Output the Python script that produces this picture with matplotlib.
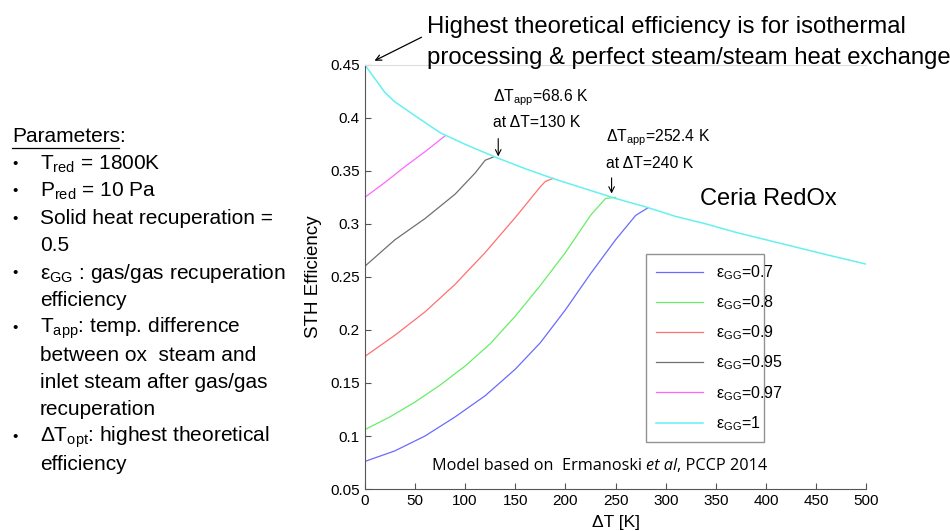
import matplotlib
matplotlib.use('Agg')
import matplotlib.pyplot as plt
from matplotlib.lines import Line2D

plt.rcParams['font.family'] = ['Liberation Sans', 'DejaVu Sans']
plt.rcParams['mathtext.fontset'] = 'custom'
plt.rcParams['mathtext.rm'] = 'Liberation Sans'
plt.rcParams['mathtext.it'] = 'Liberation Sans:italic'

# data
dt_1 = [0, 10, 20, 30, 50, 75, 100, 130, 160, 190, 220, 250, 280, 310, 340, 370, 400, 430, 460, 500]
eff_1 = [0.45, 0.437, 0.424, 0.415, 0.402, 0.386, 0.375, 0.363, 0.352, 0.342, 0.333, 0.324,
         0.316, 0.307, 0.300, 0.292, 0.285, 0.278, 0.271, 0.262]
dt_097 = [0, 20, 40, 60, 80]
eff_097 = [0.325, 0.339, 0.354, 0.368, 0.383]
dt_095 = [0, 30, 60, 90, 110, 120, 128]
eff_095 = [0.26, 0.285, 0.305, 0.328, 0.348, 0.360, 0.363]
dt_09 = [0, 30, 60, 90, 120, 150, 175, 180, 188]
eff_09 = [0.175, 0.195, 0.217, 0.243, 0.273, 0.306, 0.335, 0.340, 0.343]
dt_08 = [0, 25, 50, 75, 100, 125, 150, 175, 200, 225, 240, 250]
eff_08 = [0.106, 0.118, 0.132, 0.148, 0.166, 0.187, 0.213, 0.242, 0.273, 0.308, 0.324, 0.325]
dt_07 = [0, 30, 60, 90, 120, 150, 175, 200, 225, 250, 270, 282]
eff_07 = [0.076, 0.086, 0.100, 0.118, 0.138, 0.163, 0.188, 0.219, 0.253, 0.285, 0.308, 0.315]

xticks = list(range(0, 501, 50))
yticks = [0.05, 0.1, 0.15, 0.2, 0.25, 0.3, 0.35, 0.4, 0.45]
ytick_labels = ['0.05', '0.1', '0.15', '0.2', '0.25', '0.3', '0.35', '0.4', '0.45']

fig = plt.figure(figsize=(9.5, 5.31), dpi=100)
ax = fig.add_axes([0.384, 0.079, 0.528, 0.799])

ax.plot(dt_07, eff_07, color='#6a6aff', lw=0.9, label=r'ε$_{\mathregular{GG}}$=0.7')
ax.plot(dt_08, eff_08, color='#66ee66', lw=0.9, label=r'ε$_{\mathregular{GG}}$=0.8')
ax.plot(dt_09, eff_09, color='#ff7070', lw=0.9, label=r'ε$_{\mathregular{GG}}$=0.9')
ax.plot(dt_095, eff_095, color='#707070', lw=0.9, label=r'ε$_{\mathregular{GG}}$=0.95')
ax.plot(dt_097, eff_097, color='#ff66ff', lw=0.9, label=r'ε$_{\mathregular{GG}}$=0.97')
ax.plot(dt_1, eff_1, color='#66f0f0', lw=1.1, label=r'ε$_{\mathregular{GG}}$=1')

ax.set_xlim(0, 500)
ax.set_ylim(0.05, 0.45)
ax.set_xticks(xticks)
ax.set_yticks(yticks)
ax.set_yticklabels(ytick_labels)
ax.tick_params(direction='in', labelsize=11, length=4, color='#555555')
ax.spines['right'].set_visible(False)
ax.spines['top'].set_color('#dddddd')
ax.spines['left'].set_color('#555555')
ax.spines['bottom'].set_color('#555555')
ax.set_ylabel('STH Efficiency', fontsize=13.5, labelpad=6)
ax.set_xlabel(r'ΔT [K]', fontsize=12.5, labelpad=5)

leg = ax.legend(loc='center', bbox_to_anchor=(638 / 950, 1 - 443 / 531, 134 / 950, 190 / 531),
                bbox_transform=fig.transFigure, mode='expand', fontsize=11.5, frameon=True,
                fancybox=False, edgecolor='#777777', handlelength=3.0, labelspacing=0.72,
                borderpad=0.6)
leg.get_frame().set_linewidth(1.0)

# annotations in the axes
ax.text(128, 0.416, r'ΔT$_{\mathregular{app}}$=68.6 K', fontsize=11.3)
ax.text(128, 0.391, 'at ΔT=130 K', fontsize=11.3)
ax.annotate('', xy=(133, 0.361), xytext=(133, 0.383),
            arrowprops=dict(arrowstyle='->', lw=0.8, color='black'))
ax.text(240, 0.378, r'ΔT$_{\mathregular{app}}$=252.4 K', fontsize=11.3)
ax.text(240, 0.353, 'at ΔT=240 K', fontsize=11.3)
ax.annotate('', xy=(246, 0.326), xytext=(246, 0.346),
            arrowprops=dict(arrowstyle='->', lw=0.8, color='black'))
ax.text(334, 0.318, 'Ceria RedOx', fontsize=17)

# headline with arrow
fig.text(427 / 950, 1 - 27 / 531, 'Highest theoretical efficiency is for isothermal',
         fontsize=17.2, va='center')
fig.text(427 / 950, 1 - 58 / 531, 'processing & perfect steam/steam heat exchange',
         fontsize=17.2, va='center')
ax.annotate('', xy=(372 / 950, 1 - 62 / 531), xycoords='figure fraction',
            xytext=(424 / 950, 1 - 36 / 531), textcoords='figure fraction',
            arrowprops=dict(arrowstyle='->', lw=0.9, color='black'))

# model credit
fig.canvas.draw()
renderer = fig.canvas.get_renderer()
x0 = 432 / 950
yc = 1 - 466 / 531
pieces = [('Model based on  Ermanoski ', 'normal'), ('et al', 'italic'), (', PCCP 2014', 'normal')]
for txt, style in pieces:
    t = fig.text(x0, yc, txt, fontsize=11.7, va='center', style=style,
                 family=['Open Sans', 'DejaVu Sans'])
    bb = t.get_window_extent(renderer)
    x0 += bb.width / fig.bbox.width

# left parameter list
left_lines = [
    (True, r'T$_{\mathregular{red}}$ = 1800K'),
    (True, r'P$_{\mathregular{red}}$ = 10 Pa'),
    (True, 'Solid heat recuperation ='),
    (False, '0.5'),
    (True, r'ε$_{\mathregular{GG}}$ : gas/gas recuperation'),
    (False, 'efficiency'),
    (True, r'T$_{\mathregular{app}}$: temp. difference'),
    (False, 'between ox  steam and'),
    (False, 'inlet steam after gas/gas'),
    (False, 'recuperation'),
    (True, r'ΔT$_{\mathregular{opt}}$: highest theoretical'),
    (False, 'efficiency'),
]
t = fig.text(12 / 950, 1 - 137 / 531, 'Parameters:', fontsize=15, va='center')
bb = t.get_window_extent(renderer)
uy = 1 - 148 / 531
fig.add_artist(Line2D([12 / 950, (12 + bb.width * 0.94) / 950], [uy, uy], color='black', lw=0.9))
y = 164
for bullet, txt in left_lines:
    if bullet:
        fig.text(12 / 950, 1 - y / 531, '•', fontsize=11, va='center')
    fig.text(40 / 950, 1 - y / 531, txt, fontsize=15, va='center')
    y += 27.3

fig.savefig('out.png', dpi=100)
